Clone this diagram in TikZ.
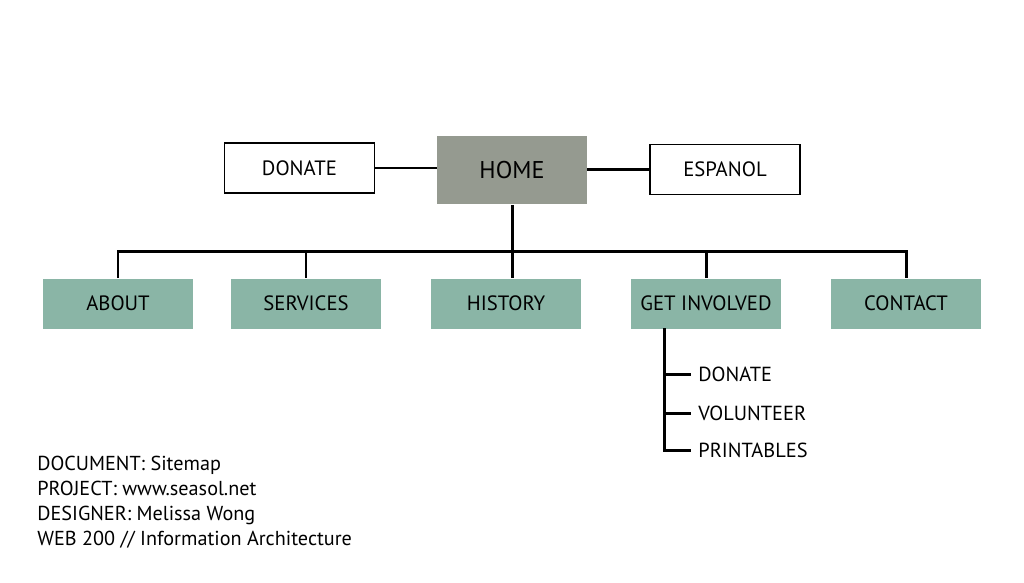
\documentclass[tikz,border=0pt]{standalone}
\usepackage{fontspec}
\setmainfont{PT Sans}
\usetikzlibrary{positioning}
\definecolor{homegray}{HTML}{959A90}
\definecolor{pagegreen}{HTML}{8AB5A6}
\tikzset{
  page/.style={fill=pagegreen, minimum width=3cm, minimum height=1cm, font=\fontsize{11.8}{13}\selectfont},
  side/.style={draw=black, line width=0.6pt, fill=white, minimum width=3cm, minimum height=1cm, font=\fontsize{11.8}{13}\selectfont},
  sub/.style={anchor=west, inner sep=0pt, font=\fontsize{11.6}{13}\selectfont},
  link/.style={line width=1.7pt}
}
\begin{document}
\begin{tikzpicture}[x=0.02cm,y=-0.02cm]
  \useasboundingbox (0,0) rectangle (1024,582);
  % top row
  \node[fill=homegray, minimum width=3cm, minimum height=1.38cm, font=\fontsize{13.8}{15}\selectfont] (home) at (512,170) {HOME};
  \node[side] (donate) at (299.5,168) {DONATE};
  \node[side] (espanol) at (725,169.5) {ESPANOL};
  % second level
  \node[page] (about) at (118,303.5) {ABOUT};
  \node[page] (services) at (306,303.5) {SERVICES};
  \node[page] (history) at (506,303.5) {HISTORY};
  \node[page] (getinv) at (706,303.5) {GET INVOLVED};
  \node[page] (contact) at (906,303.5) {CONTACT};
  % under get involved
  \node[sub] (gidonate) at (698,374) {DONATE};
  \node[sub] (volunteer) at (698,413) {VOLUNTEER};
  \node[sub] (printables) at (698,450) {PRINTABLES};
  \coordinate (spine) at (664,328);
  \coordinate (bus) at (512,251);
  % links
  \draw[link] (donate.east) -- (donate.east -| home.west);
  \draw[link] (home.east |- espanol.west) -- (espanol.west);
  \draw[link] (home.south) -- (home.south |- bus);
  \draw[link] (about.north) -- (about.north |- bus) -| (contact.north);
  \draw[link] (services.north) -- (services.north |- bus);
  \draw[link] (bus) -- (bus |- history.north);
  \draw[link] (getinv.north) -- (getinv.north |- bus);
  \draw[link] (spine) |- ([xshift=-4]printables.west);
  \draw[link] (spine |- gidonate.west) -- ([xshift=-4]gidonate.west);
  \draw[link] (spine |- volunteer.west) -- ([xshift=-4]volunteer.west);
  % info
  \node[anchor=north west, align=left, inner sep=0pt, font=\fontsize{11.5}{14.2}\selectfont] (info) at (37,456)
    {DOCUMENT: Sitemap\\PROJECT: www.seasol.net\\DESIGNER: Melissa Wong\\WEB 200 // Information Architecture};
\end{tikzpicture}
\end{document}
